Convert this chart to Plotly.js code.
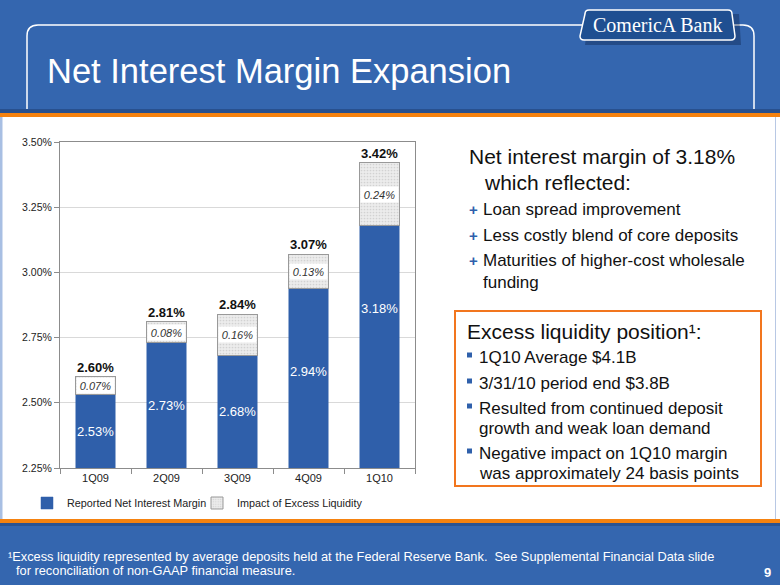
<!DOCTYPE html>
<html><head><meta charset="utf-8">
<script src="https://cdn.plot.ly/plotly-3.0.1.min.js"></script>
<style>html,body{margin:0;padding:0;background:#3466AF;}#chart{width:780px;height:585px;}</style>
</head><body><div id="chart"></div>
<script>
// ---- data ----
const categories = ['1Q09', '2Q09', '3Q09', '4Q09', '1Q10'];
const reportedNIM = [2.53, 2.73, 2.68, 2.94, 3.18];
const excessLiquidityImpact = [0.07, 0.08, 0.16, 0.13, 0.24];
const yTickValues = [2.25, 2.50, 2.75, 3.00, 3.25, 3.50];
const yTickLabels = ['2.25%', '2.50%', '2.75%', '3.00%', '3.25%', '3.50%'];
const seriesNames = ['Reported Net Interest Margin', 'Impact of Excess Liquidity'];

// ---- helpers (page pixels -> paper fractions) ----
const W = 780, H = 585;
const px = x => x / W;
const py = y => 1 - y / H;
const P = (x, y) => px(x).toFixed(5) + ',' + py(y).toFixed(5);

const BLUE = '#3466AF', BAR_BLUE = '#2F5FAA', ORANGE = '#F5820F';
const SANS = 'Liberation Sans, Arial, sans-serif';
const SERIF = 'Liberation Serif, DejaVu Serif, serif';
const yMin = yTickValues[0], yMax = yTickValues[yTickValues.length - 1];

const totals = reportedNIM.map((v, i) => v + excessLiquidityImpact[i]);

const traces = [
  {
    type: 'bar', name: seriesNames[0], x: categories, y: reportedNIM, legend: 'legend',
    marker: { color: BAR_BLUE, line: { color: BAR_BLUE, width: 0.5 } },
    hoverinfo: 'x+y'
  },
  {
    type: 'bar', name: seriesNames[1], x: categories, y: excessLiquidityImpact, legend: 'legend2',
    marker: { color: '#ececec', line: { color: '#999999', width: 1 },
      pattern: { shape: '.', fgcolor: '#d2d2d2', bgcolor: '#ececec', size: 3, solidity: 0.25 } },
    hoverinfo: 'x+y'
  }
];

const annotations = [];
categories.forEach((c, i) => {
  const v = reportedNIM[i];
  annotations.push({ x: c, y: Math.max((yMin + v) / 2, v - 0.32), xref: 'x', yref: 'y',
    text: v.toFixed(2) + '%', showarrow: false, font: { family: SANS, size: 13, color: '#ffffff' } });
  annotations.push({ x: c, y: v + excessLiquidityImpact[i] / 2, xref: 'x', yref: 'y',
    text: '<i>' + excessLiquidityImpact[i].toFixed(2) + '%</i>', showarrow: false,
    bgcolor: '#ffffff', width: 37, height: 15, borderpad: 0,
    font: { family: SANS, size: 11, color: '#333333' } });
  annotations.push({ x: c, y: totals[i], xref: 'x', yref: 'y', yanchor: 'bottom', yshift: 0,
    text: '<b>' + totals[i].toFixed(2) + '%</b>', showarrow: false,
    font: { family: SANS, size: 13, color: '#111111' } });
});

function txt(x, y, text, size, opts) {
  return Object.assign({ xref: 'paper', yref: 'paper', x: px(x), y: py(y), xanchor: 'left', yanchor: 'middle',
    text: text, showarrow: false, font: { family: SANS, size: size, color: '#111111' } }, opts || {});
}
// header title + logo text
annotations.push(txt(45, 71, 'Net Interest Margin Expansion', 34.5, { font: { family: SANS, size: 34.5, color: '#ffffff' } }));
annotations.push(txt(657, 25, 'ComericA Bank', 20, { xanchor: 'center', font: { family: SERIF, size: 20, color: '#ffffff' } }));
// right side text
annotations.push(txt(467, 157, 'Net interest margin of 3.18%', 21));
annotations.push(txt(482, 182, 'which reflected:', 21));
const plusLines = [[209, 'Loan spread improvement'], [235, 'Less costly blend of core deposits'], [260, 'Maturities of higher-cost wholesale']];
plusLines.forEach(([y, t]) => {
  annotations.push(txt(467, y, '<b>+</b>', 15, { font: { family: SANS, size: 15, color: '#2F60AB' } }));
  annotations.push(txt(481, y, t, 17));
});
annotations.push(txt(481, 282, 'funding', 17));
annotations.push(txt(465, 331, 'Excess liquidity position¹:', 21));
const boxLines = [[357, '1Q10 Average $4.1B'], [383, '3/31/10 period end $3.8B'], [408, 'Resulted from continued deposit'],
  [428, 'growth and weak loan demand'], [453, 'Negative impact on 1Q10 margin'], [473, 'was approximately 24 basis points']];
boxLines.forEach(([y, t]) => annotations.push(txt(477, y, t, 17)));
// footnote + page number
annotations.push(txt(6, 556, '¹Excess liquidity represented by average deposits held at the Federal Reserve Bank.  See Supplemental Financial Data slide', 12.8, { font: { family: SANS, size: 12.8, color: '#ffffff' } }));
annotations.push(txt(14, 570.5, 'for reconciliation of non-GAAP financial measure.', 12.8, { font: { family: SANS, size: 12.8, color: '#ffffff' } }));
annotations.push(txt(767, 572, '<b>9</b>', 13, { xanchor: 'center', font: { family: SANS, size: 13, color: '#ffffff' } }));

const shapes = [
  { type: 'rect', xref: 'paper', yref: 'paper', x0: 0, x1: 1, y0: py(519), y1: py(116), fillcolor: '#a8bfe3', line: { width: 0 }, layer: 'below' },
  { type: 'rect', xref: 'paper', yref: 'paper', x0: px(2.5), x1: 1, y0: py(519), y1: py(116), fillcolor: '#ffffff', line: { width: 0 }, layer: 'below' },
  { type: 'line', xref: 'paper', yref: 'paper', x0: px(775.5), x1: px(775.5), y0: py(519), y1: py(116), line: { color: '#b8c8e4', width: 1 }, layer: 'below' },
  { type: 'rect', xref: 'paper', yref: 'paper', x0: 0, x1: 1, y0: py(113), y1: py(109), fillcolor: 'rgba(20,40,80,0.35)', line: { width: 0 }, layer: 'below' },
  { type: 'rect', xref: 'paper', yref: 'paper', x0: 0, x1: 1, y0: py(117), y1: py(113), fillcolor: ORANGE, line: { width: 0 }, layer: 'below' },
  { type: 'rect', xref: 'paper', yref: 'paper', x0: 0, x1: 1, y0: py(526), y1: py(523), fillcolor: 'rgba(20,40,80,0.3)', line: { width: 0 }, layer: 'below' },
  { type: 'rect', xref: 'paper', yref: 'paper', x0: 0, x1: 1, y0: py(523), y1: py(519), fillcolor: ORANGE, line: { width: 0 }, layer: 'below' },
  // header outline
  { type: 'path', xref: 'paper', yref: 'paper', layer: 'below', line: { color: '#ffffff', width: 1.5 },
    path: 'M' + P(582, 25) + ' L' + P(38, 25) + ' Q' + P(27, 25) + ' ' + P(27, 36) + ' L' + P(27, 109) +
          ' M' + P(734, 25) + ' L' + P(743, 25) + ' Q' + P(754, 25) + ' ' + P(754, 36) + ' L' + P(754, 109) },
  // logo shadow + plate
  { type: 'path', xref: 'paper', yref: 'paper', layer: 'below', fillcolor: 'rgba(10,25,60,0.35)', line: { width: 0 },
    path: 'M' + P(589, 14) + ' L' + P(739, 14) + ' L' + P(741, 45) + ' L' + P(585, 45) + ' Z' },
  { type: 'path', xref: 'paper', yref: 'paper', layer: 'below', fillcolor: '#1F4F91', line: { color: '#ffffff', width: 1.5 },
    path: 'M' + P(589, 10) + ' L' + P(728, 10) + ' Q' + P(732, 10) + ' ' + P(732, 14) + ' L' + P(735, 36) + ' Q' + P(735, 40) + ' ' + P(731, 40) +
          ' L' + P(584, 40) + ' Q' + P(580, 40) + ' ' + P(580, 36) + ' L' + P(585, 14) + ' Q' + P(585, 10) + ' ' + P(589, 10) + ' Z' },
  // orange box
  { type: 'rect', xref: 'paper', yref: 'paper', x0: px(455), x1: px(761), y0: py(486), y1: py(311), line: { color: '#F2761E', width: 2 }, fillcolor: 'rgba(0,0,0,0)' }
];
boxLines.forEach(([y, t], i) => {
  if (i === 3 || i === 5) return;
  shapes.push({ type: 'rect', xref: 'paper', yref: 'paper', x0: px(467), x1: px(472), y0: py(y + 0.5), y1: py(y - 4.5), fillcolor: '#2F60AB', line: { width: 0 } });
});

const legendBase = { orientation: 'h', y: py(503), xanchor: 'left', yanchor: 'middle', traceorder: 'normal',
  font: { family: SANS, size: 10.8, color: '#222222' }, bgcolor: 'rgba(0,0,0,0)', itemwidth: 30 };

const layout = {
  width: W, height: H,
  margin: { l: 0, r: 0, t: 0, b: 0 },
  paper_bgcolor: BLUE, plot_bgcolor: '#ffffff',
  barmode: 'stack', bargap: 0.44,
  showlegend: true,
  legend: Object.assign({}, legendBase, { x: px(27) }),
  legend2: Object.assign({}, legendBase, { x: px(197) }),
  xaxis: { domain: [px(60), px(415)], type: 'category', tickson: 'boundaries', ticks: 'outside', ticklen: 5,
    tickcolor: '#8c8c8c', showline: true, linecolor: '#8c8c8c', mirror: true, showgrid: false,
    tickfont: { family: SANS, size: 11, color: '#222222' }, fixedrange: true },
  yaxis: { domain: [py(468), py(142)], range: [yMin, yMax], tickmode: 'array', tickvals: yTickValues, ticktext: yTickLabels,
    ticks: 'outside', ticklen: 5, tickcolor: '#8c8c8c', showline: true, linecolor: '#8c8c8c', mirror: true,
    showgrid: true, gridcolor: '#d9d9d9', zeroline: false,
    tickfont: { family: SANS, size: 10.5, color: '#222222' }, fixedrange: true },
  annotations: annotations,
  shapes: shapes
};

Plotly.newPlot('chart', traces, layout, { displayModeBar: false, staticPlot: true });
</script></body></html>
